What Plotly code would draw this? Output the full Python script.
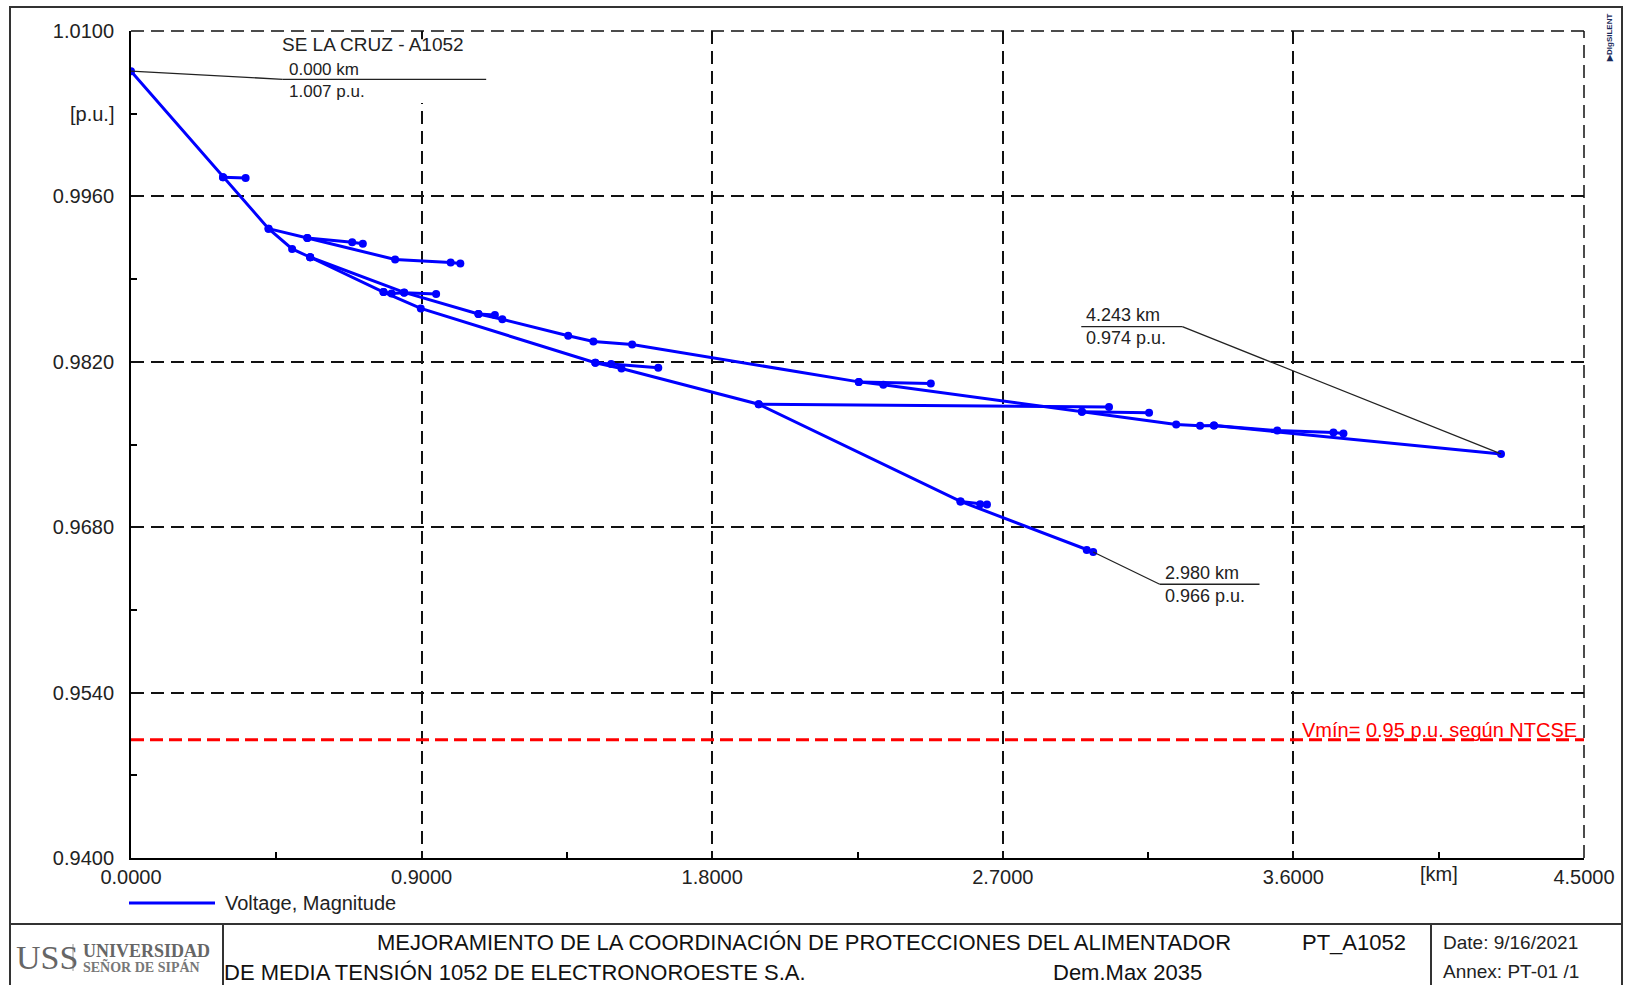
import plotly.graph_objects as go

# ---------------- data (distance in km, voltage in p.u.) ----------------
trunk_km = [0.000, 0.285, 0.426, 0.499, 0.555]
trunk_pu = [1.0066, 0.99763, 0.99327, 0.99155, 0.99085]

b1_km = [0.285, 0.355]
b1_pu = [0.99763, 0.99755]

b2_km = [0.426, 0.546, 0.685, 0.718]
b2_pu = [0.99327, 0.99248, 0.99212, 0.99200]

b3_km = [0.546, 0.818, 0.990, 1.020]
b3_pu = [0.99248, 0.99066, 0.99040, 0.99032]

upper_km = [0.555, 0.846, 1.076, 1.150, 1.354, 1.432, 1.552, 2.254, 2.330, 2.945,
            3.237, 3.311, 3.354, 4.243]
upper_pu = [0.99085, 0.98787, 0.98605, 0.98560, 0.98420, 0.98372, 0.98347, 0.98030,
            0.98005, 0.97777, 0.97670, 0.97658, 0.97660, 0.97420]

u1_km = [1.076, 1.127]
u1_pu = [0.98605, 0.98596]

u2_km = [2.254, 2.477]
u2_pu = [0.98030, 0.98016]

u3_km = [2.945, 3.153]
u3_pu = [0.97777, 0.97769]

u4_km = [3.354, 3.550, 3.724, 3.755]
u4_pu = [0.97660, 0.97618, 0.97602, 0.97594]

lower_km = [0.555, 0.782, 0.8975, 1.438, 1.519, 1.944, 2.569, 2.960, 2.980]
lower_pu = [0.99085, 0.98790, 0.98652, 0.98192, 0.98143, 0.97841, 0.97018, 0.96606, 0.96590]

l1_km = [0.782, 0.807, 0.846, 0.945]
l1_pu = [0.98790, 0.98779, 0.98785, 0.98773]

l2_km = [1.438, 1.487, 1.633]
l2_pu = [0.98192, 0.98182, 0.98149]

l3_km = [2.569, 2.630, 2.651]
l3_pu = [0.97018, 0.96995, 0.96992]

h1_km = [1.944, 3.029]
h1_pu = [0.97841, 0.97818]

VMIN = 0.95

X_TICKS = [0.0, 0.9, 1.8, 2.7, 3.6, 4.5]
X_MINOR = [0.45, 1.35, 2.25, 3.15, 4.05]
Y_TICKS = [0.940, 0.954, 0.968, 0.982, 0.996, 1.010]
Y_MINOR = [0.947, 0.961, 0.975, 0.989, 1.003]

SOURCE_NAME = "SE LA CRUZ - A1052"
SERIES_NAME = "Voltage, Magnitude"

BRANCHES = [(trunk_km, trunk_pu), (b1_km, b1_pu), (b2_km, b2_pu), (b3_km, b3_pu),
            (upper_km, upper_pu), (u1_km, u1_pu), (u2_km, u2_pu), (u3_km, u3_pu),
            (u4_km, u4_pu), (lower_km, lower_pu), (l1_km, l1_pu), (l2_km, l2_pu),
            (l3_km, l3_pu), (h1_km, h1_pu)]

# ---------------- geometry ----------------
W, H = 1628, 985
ML, MR, MT, MB = 131, 44, 31, 127
PL, PR, PT, PB = ML, W - MR, MT, H - MB


def px(x):
    return (x - PL) / (PR - PL)


def py(y):
    return (PB - y) / (PB - PT)


FONT = "Liberation Sans, Arial, sans-serif"
SERIF = "Liberation Serif, Times New Roman, serif"
BLUE = "#0000ff"
TXT = "#222222"
LEAD = dict(color="#222", width=1.3)

xs, ys = [], []
for bx, by in BRANCHES:
    xs += list(bx) + [None]
    ys += list(by) + [None]

fig = go.Figure()
fig.add_trace(go.Scatter(
    x=xs, y=ys, mode="lines+markers", name=SERIES_NAME,
    line=dict(color=BLUE, width=3),
    marker=dict(color=BLUE, size=8),
    connectgaps=False, showlegend=False, hoverinfo="x+y"))

shapes = []
annotations = []

# dashed grid at the top and right plot edges
shapes += [
    dict(type="line", xref="paper", yref="paper", x0=0, x1=1, y0=1, y1=1,
         line=dict(color="#111", width=1.5, dash="13px,7px"), layer="below"),
    dict(type="line", xref="paper", yref="paper", x0=1, x1=1, y0=0, y1=1,
         line=dict(color="#111", width=1.5, dash="13px,7px"), layer="below"),
]

# Vmin reference line
shapes.append(dict(type="line", xref="paper", yref="y", x0=0, x1=1, y0=VMIN, y1=VMIN,
                   line=dict(color="#ff0000", width=3, dash="13px,6px"), layer="above"))
annotations.append(dict(xref="x", yref="y", x=4.485, y=VMIN, xanchor="right", yanchor="bottom",
                        yshift=-3, showarrow=False,
                        text=f"Vmín= {VMIN:.2f} p.u. según NTCSE",
                        font=dict(family=FONT, size=20, color="#ff0000")))


def stacked(x, y, l1, l2, size=18):
    return dict(xref="x", yref="y", x=x, y=y, xanchor="left", yanchor="middle", align="left",
                showarrow=False, text=f"{l1}<br>{l2}",
                font=dict(family=FONT, size=size, color=TXT))


# source label (white box hides the grid behind it)
src_x, src_y = trunk_km[0], trunk_pu[0]
shapes.append(dict(type="rect", xref="x", yref="y", x0=0.455, x1=1.11, y0=1.0039, y1=1.0093,
                   fillcolor="white", line=dict(width=0), layer="above"))
shapes.append(dict(type="line", xref="x", yref="y", x0=src_x, y0=src_y, x1=0.47, y1=1.00591,
                   line=LEAD, layer="above"))
shapes.append(dict(type="line", xref="x", yref="y", x0=0.47, y0=1.00591, x1=1.10, y1=1.00591,
                   line=LEAD, layer="above"))
annotations += [
    dict(xref="x", yref="y", x=0.462, y=1.00885, xanchor="left", yanchor="middle", showarrow=False,
         text=SOURCE_NAME, font=dict(family=FONT, size=19, color=TXT)),
    stacked(0.482, 1.00577, f"{src_x:.3f} km", f"{src_y:.3f} p.u.", 17),
]

# end of upper branch label
ue_x, ue_y = upper_km[-1], upper_pu[-1]
shapes.append(dict(type="line", xref="x", yref="y", x0=ue_x, y0=ue_y, x1=3.256, y1=0.98498,
                   line=LEAD, layer="above"))
shapes.append(dict(type="line", xref="x", yref="y", x0=2.943, y0=0.98498, x1=3.256, y1=0.98498,
                   line=LEAD, layer="above"))
annotations.append(stacked(2.952, 0.98498, f"{ue_x:.3f} km", f"{ue_y:.3f} p.u."))

# end of lower branch label
le_x, le_y = lower_km[-1], lower_pu[-1]
shapes.append(dict(type="line", xref="x", yref="y", x0=le_x, y0=le_y, x1=3.186, y1=0.96317,
                   line=LEAD, layer="above"))
shapes.append(dict(type="line", xref="x", yref="y", x0=3.186, y0=0.96317, x1=3.495, y1=0.96317,
                   line=LEAD, layer="above"))
annotations.append(stacked(3.196, 0.96317, f"{le_x:.3f} km", f"{le_y:.3f} p.u."))

# axis unit labels
annotations += [
    dict(xref="paper", yref="y", x=px(116), y=Y_MINOR[-1], xanchor="right", yanchor="middle",
         showarrow=False, text="[p.u.]", font=dict(family=FONT, size=20, color=TXT)),
    dict(xref="x", yref="paper", x=X_MINOR[-1], y=py(874), xanchor="center", yanchor="middle",
         showarrow=False, text="[km]", font=dict(family=FONT, size=20, color=TXT)),
]

# legend (drawn below plot)
shapes.append(dict(type="line", xref="paper", yref="paper", x0=px(129), x1=px(215), y0=py(903), y1=py(903),
                   line=dict(color=BLUE, width=3)))
annotations.append(dict(xref="paper", yref="paper", x=px(223), y=py(903), xanchor="left", yanchor="middle",
                        showarrow=False, text=SERIES_NAME, font=dict(family=FONT, size=20, color=TXT)))

# outer frame and title block
FR = "#333333"
shapes += [
    dict(type="rect", xref="paper", yref="paper", x0=px(10), x1=px(1622), y0=py(7), y1=py(1000),
         line=dict(color=FR, width=2), fillcolor="rgba(0,0,0,0)"),
    dict(type="line", xref="paper", yref="paper", x0=px(10), x1=px(1622), y0=py(924), y1=py(924),
         line=dict(color=FR, width=2)),
    dict(type="line", xref="paper", yref="paper", x0=px(223), x1=px(223), y0=py(924), y1=py(1000),
         line=dict(color=FR, width=2)),
    dict(type="line", xref="paper", yref="paper", x0=px(1431), x1=px(1431), y0=py(924), y1=py(1000),
         line=dict(color=FR, width=2)),
    dict(type="line", xref="paper", yref="paper", x0=px(73), x1=px(73), y0=py(944), y1=py(971),
         line=dict(color="#999", width=1)),
]


def ptext(x, y, text, size, color="#111", family=FONT, anchor="left"):
    return dict(xref="paper", yref="paper", x=px(x), y=py(y), xanchor=anchor, yanchor="middle",
                showarrow=False, text=text, font=dict(family=family, size=size, color=color))


annotations += [
    ptext(375, 942, "MEJORAMIENTO DE LA COORDINACIÓN DE PROTECCIONES DEL ALIMENTADOR", 22),
    ptext(1300, 942, "PT_A1052", 22),
    ptext(222, 973, "DE MEDIA TENSIÓN 1052 DE ELECTRONOROESTE S.A.", 22),
    ptext(1051, 973, "Dem.Max 2035", 22),
    ptext(1441, 942, "Date: 9/16/2021", 19, TXT),
    ptext(1441, 971, "Annex: PT-01 /1", 19, TXT),
    ptext(14, 957, "USS", 34, "#666666", SERIF),
    ptext(81, 951, "<b>UNIVERSIDAD</b>", 18, "#666666", SERIF),
    ptext(81, 966, "<b>SEÑOR DE SIPÁN</b>", 14, "#777777", SERIF),
    dict(xref="paper", yref="paper", x=px(1610), y=py(38), xanchor="center", yanchor="middle",
         showarrow=False, text="<b>▶DIgSILENT</b>", textangle=-90,
         font=dict(family=FONT, size=8, color="#1a2a5a")),
]

GRID = dict(showgrid=True, gridcolor="#111111", gridwidth=1.5, griddash="13px,7px")

fig.update_layout(
    width=W, height=H, autosize=False,
    margin=dict(l=ML, r=MR, t=MT, b=MB, pad=0),
    paper_bgcolor="white", plot_bgcolor="white",
    showlegend=False,
    shapes=shapes, annotations=annotations,
    font=dict(family=FONT, size=20, color=TXT),
    xaxis=dict(range=[0, 4.5], tickmode="array", tickvals=X_TICKS,
               ticktext=[f"{v:.4f}" for v in X_TICKS], ticks="", zeroline=False,
               showline=True, linecolor="black", linewidth=2, ticklabelstandoff=0,
               tickfont=dict(family=FONT, size=20, color=TXT),
               minor=dict(tickmode="array", tickvals=X_MINOR, ticks="inside", ticklen=6,
                          tickwidth=1.5, tickcolor="black", showgrid=False),
               **GRID),
    yaxis=dict(range=[0.94, 1.01], tickmode="array", tickvals=Y_TICKS,
               ticktext=[f"{v:.4f}" for v in Y_TICKS], ticks="", zeroline=False,
               showline=True, linecolor="black", linewidth=2, ticklabelstandoff=11,
               tickfont=dict(family=FONT, size=20, color=TXT),
               minor=dict(tickmode="array", tickvals=Y_MINOR, ticks="inside", ticklen=6,
                          tickwidth=1.5, tickcolor="black", showgrid=False),
               **GRID),
)

fig.write_html("out.html", config={"displayModeBar": False},
               post_script="document.body.style.margin='0';document.body.style.overflow='hidden';")
